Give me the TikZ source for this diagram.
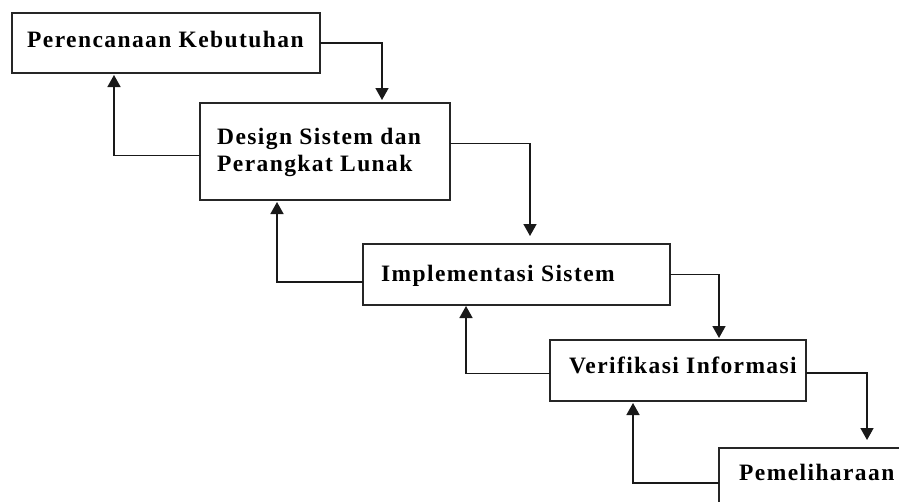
\documentclass[tikz,border=0pt]{standalone}
\usepackage{fontspec}
\setmainfont{Liberation Serif}[LetterSpace=6]
\usetikzlibrary{arrows.meta}
\begin{document}
\begin{tikzpicture}[x=1pt,y=-1pt,
  box/.style={draw=black!85, line width=1.7pt, inner sep=0pt, outer sep=0pt, anchor=north west},
  lbl/.style={anchor=base west, inner sep=0pt, font=\bfseries\fontsize{23.5}{27}\selectfont},
  arr/.style={draw=black!90, line width=1.6pt, -{Triangle[width=13pt,length=12pt]}}]
\useasboundingbox (0,0) rectangle (899,501);
\clip (0,0) rectangle (899,501);
\fill[white] (0,0) rectangle (899,501);
% boxes
\node[box, minimum width=308pt, minimum height=60pt] (b1) at (12,13) {};
\node[box, minimum width=250pt, minimum height=97pt] (b2) at (200,103) {};
\node[box, minimum width=307pt, minimum height=61pt] (b3) at (363,244) {};
\node[box, minimum width=256pt, minimum height=61pt] (b4) at (550,340) {};
\node[box, minimum width=220pt, minimum height=70pt] (b5) at (719,448) {};
% texts
\node[lbl] (t1) at (27,47) {Perencanaan Kebutuhan};
\node[lbl] (t2a) at (217,144) {Design Sistem dan};
\node[lbl] (t2b) at (217,171) {Perangkat Lunak};
\node[lbl] (t3) at (381,281) {Implementasi Sistem};
\node[lbl] (t4) at (569,373) {Verifikasi Informasi};
\node[lbl] (t5) at (739,480) {Pemeliharaan};
% forward arrows
\draw[arr] (b1.east) -| ([xshift=182pt,yshift=3pt]b2.north west);
\draw[arr] ([yshift=8pt]b2.east) -| ([xshift=330pt,yshift=8pt]b2.north west |- b3.north west);
\draw[arr] (b3.east) -| ([xshift=169pt,yshift=2pt]b4.north west);
\draw[arr] ([yshift=-2.5pt]b4.east) -| ([xshift=148pt,yshift=8pt]b5.north west);
% feedback arrows
\draw[arr] ([yshift=-4pt]b2.west) -| ([xshift=102pt,yshift=-2pt]b1.south west);
\draw[arr] ([yshift=-7.5pt]b3.west) -| ([xshift=77pt,yshift=-2pt]b2.south west);
\draw[arr] ([yshift=-3pt]b4.west) -| ([xshift=103pt,yshift=-1pt]b3.south west);
\draw[arr] (b5.west) -| ([xshift=83pt,yshift=-2pt]b4.south west);
\end{tikzpicture}
\end{document}
